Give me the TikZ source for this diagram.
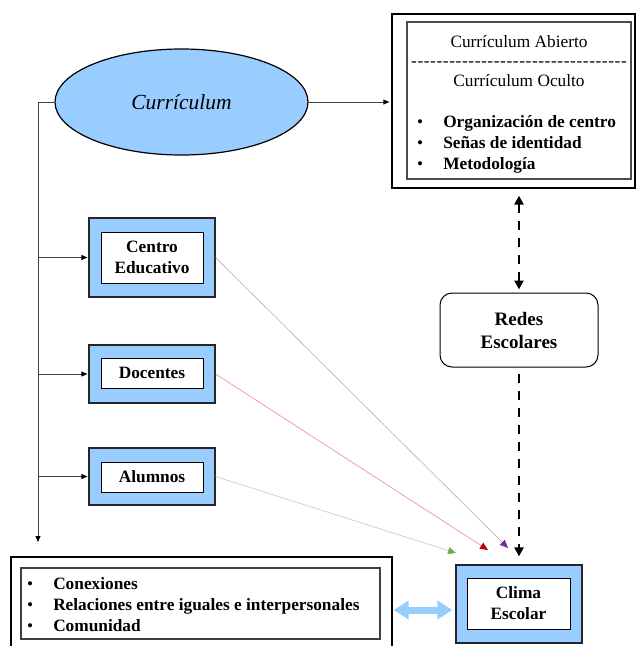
\documentclass[tikz,border=0pt]{standalone}
\usepackage{fontspec}
\setmainfont{Liberation Serif}
\usetikzlibrary{arrows.meta,shapes.geometric}
\definecolor{lblue}{HTML}{99CCFF}
\definecolor{purpleline}{HTML}{B8A6DC}
\definecolor{purplehead}{HTML}{7030A0}
\definecolor{redline}{HTML}{EE8A8A}
\definecolor{redhead}{HTML}{C00000}
\definecolor{greenline}{HTML}{B5D6A0}
\definecolor{greenhead}{HTML}{70AD47}
\definecolor{conngray}{HTML}{404040}
\tikzset{
  reg/.style={font=\fontsize{17.3}{21}\selectfont},
  boldtxt/.style={font=\bfseries\fontsize{17.3}{21}\selectfont},
  outerbox/.style={draw=black!85, line width=1.2pt, fill=lblue, inner sep=0pt, minimum width=126pt},
  innerbox/.style={draw=black, line width=0.9pt, fill=white, inner sep=0pt, align=center, boldtxt},
  conn/.style={draw=conngray, line width=0.8pt, -{Triangle[length=6pt,width=5pt,color=black]}},
  dashline/.style={line width=2.6pt, dash pattern=on 9pt off 8pt},
  colline/.style={line width=0.6pt}
}
\begin{document}
\begin{tikzpicture}[x=1pt,y=-1pt]
\useasboundingbox (0,0) rectangle (636,646);

% top right box
\node[draw=black, line width=1.3pt, minimum width=243pt, minimum height=174pt, inner sep=0pt] (topout) at (513.5,101) {};
\node[draw=black!70, line width=1.2pt, minimum width=224pt, minimum height=157pt, inner sep=0pt] (topin) at (519,100.5) {};
\node[reg, inner sep=0pt] (abierto) at (519,42) {Currículum Abierto};
\node[reg, inner sep=0pt, text height=5pt, text depth=0pt] (sep) at (519,64) {-\hspace{0.6pt}-\hspace{0.6pt}-\hspace{0.6pt}-\hspace{0.6pt}-\hspace{0.6pt}-\hspace{0.6pt}-\hspace{0.6pt}-\hspace{0.6pt}-\hspace{0.6pt}-\hspace{0.6pt}-\hspace{0.6pt}-\hspace{0.6pt}-\hspace{0.6pt}-\hspace{0.6pt}-\hspace{0.6pt}-\hspace{0.6pt}-\hspace{0.6pt}-\hspace{0.6pt}-\hspace{0.6pt}-\hspace{0.6pt}-\hspace{0.6pt}-\hspace{0.6pt}-\hspace{0.6pt}-\hspace{0.6pt}-\hspace{0.6pt}-\hspace{0.6pt}-\hspace{0.6pt}-\hspace{0.6pt}-\hspace{0.6pt}-\hspace{0.6pt}-\hspace{0.6pt}-\hspace{0.6pt}-\hspace{0.6pt}-};
\node[reg, inner sep=0pt] (oculto) at (519,81) {Currículum Oculto};
\node[reg, anchor=west, inner sep=0pt] (toplist) at (417,144) {\begin{tabular}{@{}l@{\hspace{20pt}}l@{}}
\textbullet & \textbf{Organización de centro}\\
\textbullet & \textbf{Señas de identidad}\\
\textbullet & \textbf{Metodología}
\end{tabular}};

% ellipse
\node[ellipse, draw=black, line width=1.2pt, fill=lblue, minimum width=253pt, minimum height=106pt, inner sep=0pt,
      font=\itshape\fontsize{21.5}{24}\selectfont] (curr) at (181.5,102) {Currículum};

% left boxes
\node[outerbox, minimum height=79pt] (centro) at (152,257.5) {};
\node[innerbox, minimum width=102pt, minimum height=51pt] (centroin) at (152,257.5) {Centro\\Educativo};
\node[outerbox, minimum height=58pt] (docentes) at (152,374) {};
\node[innerbox, minimum width=102pt, minimum height=30pt] (docentesin) at (152,373) {Docentes};
\node[outerbox, minimum height=57pt] (alumnos) at (152,476.5) {};
\node[innerbox, minimum width=102pt, minimum height=30pt] (alumnosin) at (152,477) {Alumnos};

% redes
\node[draw=black, line width=1pt, rounded corners=12pt, minimum width=158pt, minimum height=74pt, align=center,
      font=\bfseries\fontsize{19}{23}\selectfont] (redes) at (519,330) {Redes\\Escolares};

% clima
\node[outerbox, minimum height=78pt] (clima) at (519,604) {};
\node[innerbox, minimum width=103pt, minimum height=51pt] (climain) at (518.5,603.5) {Clima\\Escolar};

% bottom left list
\node[draw=black, line width=1.3pt, minimum width=381pt, minimum height=96pt, inner sep=0pt] (listout) at (201.5,605) {};
\node[draw=black!75, line width=1.1pt, minimum width=359pt, minimum height=71pt, inner sep=0pt] (listin) at (200.5,603.5) {};
\node[reg, anchor=west, inner sep=0pt] (botlist) at (27,606) {\begin{tabular}{@{}l@{\hspace{20pt}}l@{}}
\textbullet & \textbf{Conexiones}\\
\textbullet & \textbf{Relaciones entre iguales e interpersonales}\\
\textbullet & \textbf{Comunidad}
\end{tabular}};

% connectors
\coordinate (trunktop) at (38,102);
\coordinate (trunkend) at (38,542);
\draw[conn] (curr.west) -- (trunktop) -- (trunkend);
\draw[conn, shorten >=1pt] (trunktop |- centro.west) -- (centro.west);
\draw[conn, shorten >=1pt] (trunktop |- docentes.west) -- (docentes.west);
\draw[conn, shorten >=1pt] (trunktop |- alumnos.west) -- (alumnos.west);
\draw[conn, shorten >=2pt] (curr.east) -- (topout.west |- curr.east);

\draw[dashline, {Triangle[length=9pt,width=9pt]}-{Triangle[length=9pt,width=9pt]}, shorten <=7pt, shorten >=3pt]
  (redes.north |- topout.south) -- (redes.north);
\draw[dashline, -{Triangle[length=9pt,width=9pt]}, shorten <=6pt, shorten >=8pt]
  (redes.south) -- (redes.south |- clima.north);

\coordinate (ptip) at (508,548);
\coordinate (rtip) at (488,550);
\coordinate (gtip) at (456,553);
\draw[colline, purpleline, -{Triangle[length=8pt,width=7pt,color=purplehead]}] (centro.east) -- (ptip);
\draw[colline, redline, -{Triangle[length=8pt,width=7pt,color=redhead]}] (docentes.east) -- (rtip);
\draw[colline, greenline, -{Triangle[length=8pt,width=7pt,color=greenhead]}] (alumnos.east) -- (gtip);

\coordinate (da) at ([yshift=-5pt]listout.east);
\draw[lblue, line width=7pt, {Triangle[length=15pt,width=18pt]}-{Triangle[length=15pt,width=18pt]}, shorten <=1pt, shorten >=3pt]
  (da) -- (da -| clima.west);
\end{tikzpicture}
\end{document}
